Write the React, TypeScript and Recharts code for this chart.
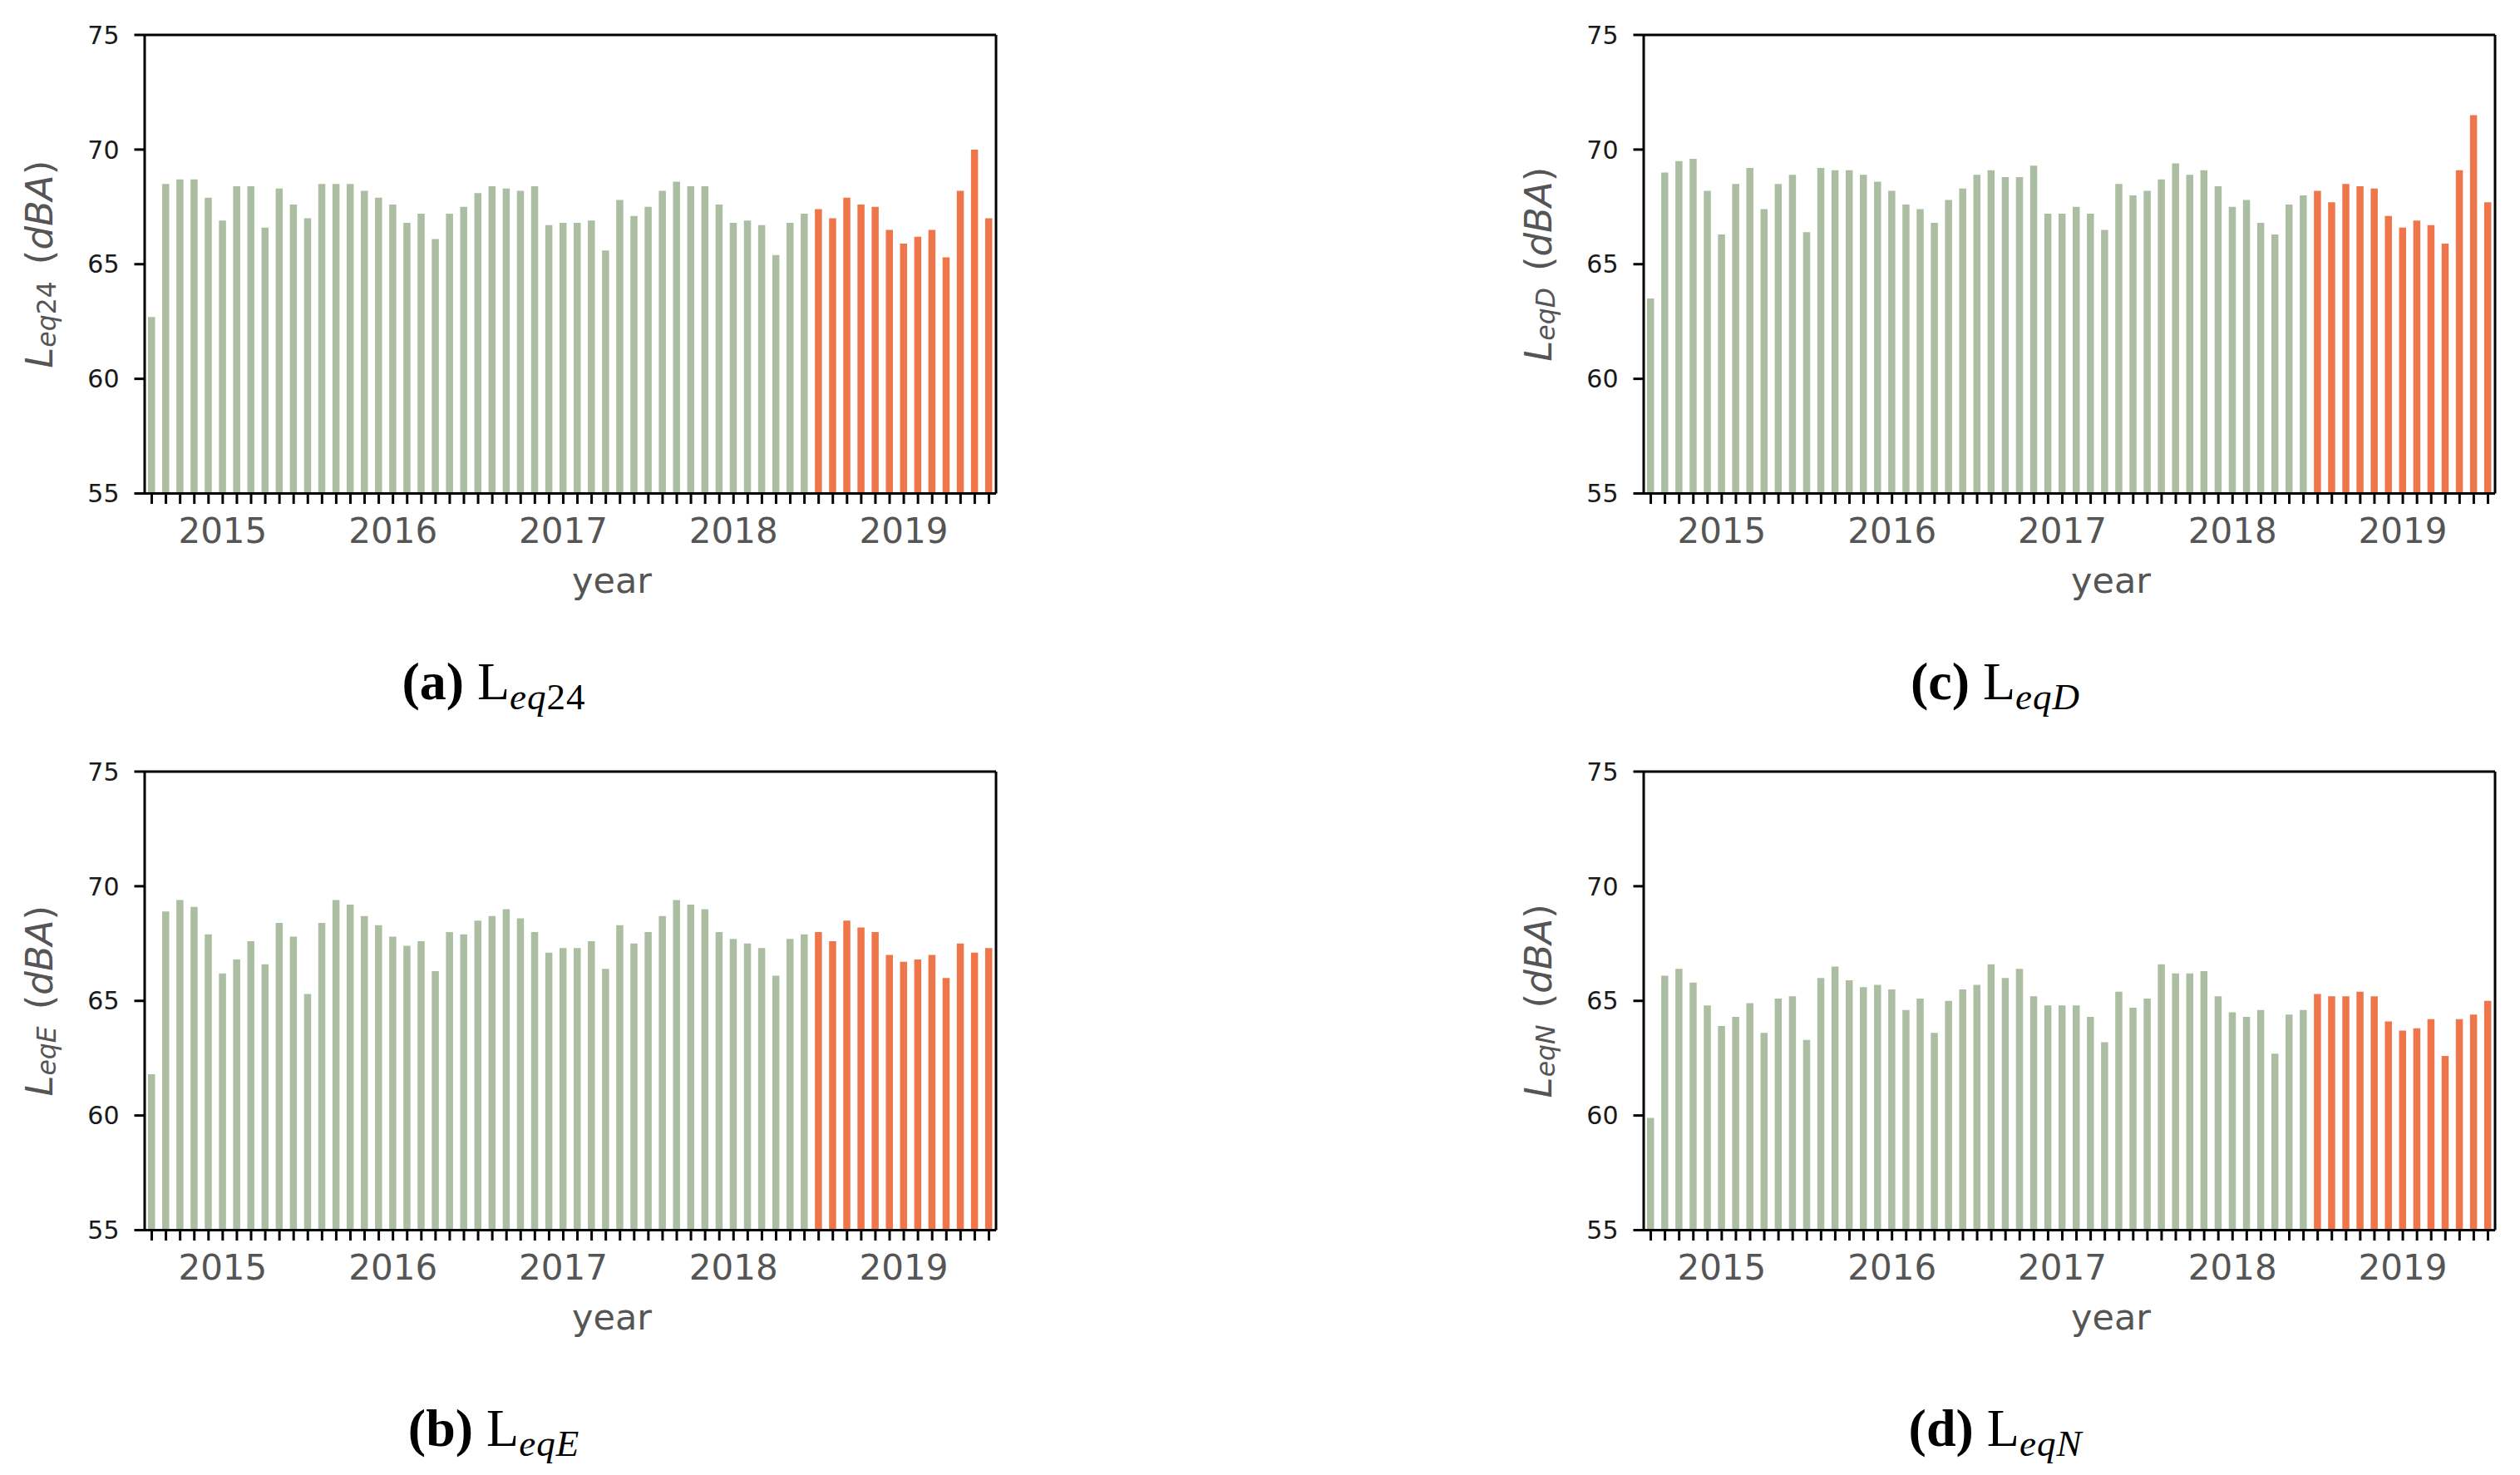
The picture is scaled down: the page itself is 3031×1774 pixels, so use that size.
import React from "react";
import { BarChart, Bar, XAxis, YAxis, Cell } from "recharts";

const months = [
  "2014-08", "2014-09", "2014-10", "2014-11", "2014-12",
  "2015-01", "2015-02", "2015-03", "2015-04", "2015-05", "2015-06", "2015-07", "2015-08", "2015-09", "2015-10", "2015-11", "2015-12",
  "2016-01", "2016-02", "2016-03", "2016-04", "2016-05", "2016-06", "2016-07", "2016-08", "2016-09", "2016-10", "2016-11", "2016-12",
  "2017-01", "2017-02", "2017-03", "2017-04", "2017-05", "2017-06", "2017-07", "2017-08", "2017-09", "2017-10", "2017-11", "2017-12",
  "2018-01", "2018-02", "2018-03", "2018-04", "2018-05", "2018-06", "2018-07", "2018-08", "2018-09", "2018-10", "2018-11", "2018-12",
  "2019-01", "2019-02", "2019-03", "2019-04", "2019-05", "2019-06", "2019-07",
];

const testStart = "2018-07";

const leq24 = [
  62.7, 68.5, 68.7, 68.7, 67.9, 66.9, 68.4, 68.4, 66.6, 68.3,
  67.6, 67.0, 68.5, 68.5, 68.5, 68.2, 67.9, 67.6, 66.8, 67.2,
  66.1, 67.2, 67.5, 68.1, 68.4, 68.3, 68.2, 68.4, 66.7, 66.8,
  66.8, 66.9, 65.6, 67.8, 67.1, 67.5, 68.2, 68.6, 68.4, 68.4,
  67.6, 66.8, 66.9, 66.7, 65.4, 66.8, 67.2, 67.4, 67.0, 67.9,
  67.6, 67.5, 66.5, 65.9, 66.2, 66.5, 65.3, 68.2, 70.0, 67.0,
];

const leqD = [
  63.5, 69.0, 69.5, 69.6, 68.2, 66.3, 68.5, 69.2, 67.4, 68.5,
  68.9, 66.4, 69.2, 69.1, 69.1, 68.9, 68.6, 68.2, 67.6, 67.4,
  66.8, 67.8, 68.3, 68.9, 69.1, 68.8, 68.8, 69.3, 67.2, 67.2,
  67.5, 67.2, 66.5, 68.5, 68.0, 68.2, 68.7, 69.4, 68.9, 69.1,
  68.4, 67.5, 67.8, 66.8, 66.3, 67.6, 68.0, 68.2, 67.7, 68.5,
  68.4, 68.3, 67.1, 66.6, 66.9, 66.7, 65.9, 69.1, 71.5, 67.7,
];

const leqE = [
  61.8, 68.9, 69.4, 69.1, 67.9, 66.2, 66.8, 67.6, 66.6, 68.4,
  67.8, 65.3, 68.4, 69.4, 69.2, 68.7, 68.3, 67.8, 67.4, 67.6,
  66.3, 68.0, 67.9, 68.5, 68.7, 69.0, 68.6, 68.0, 67.1, 67.3,
  67.3, 67.6, 66.4, 68.3, 67.5, 68.0, 68.7, 69.4, 69.2, 69.0,
  68.0, 67.7, 67.5, 67.3, 66.1, 67.7, 67.9, 68.0, 67.6, 68.5,
  68.2, 68.0, 67.0, 66.7, 66.8, 67.0, 66.0, 67.5, 67.1, 67.3,
];

const leqN = [
  59.9, 66.1, 66.4, 65.8, 64.8, 63.9, 64.3, 64.9, 63.6, 65.1,
  65.2, 63.3, 66.0, 66.5, 65.9, 65.6, 65.7, 65.5, 64.6, 65.1,
  63.6, 65.0, 65.5, 65.7, 66.6, 66.0, 66.4, 65.2, 64.8, 64.8,
  64.8, 64.3, 63.2, 65.4, 64.7, 65.1, 66.6, 66.2, 66.2, 66.3,
  65.2, 64.5, 64.3, 64.6, 62.7, 64.4, 64.6, 65.3, 65.2, 65.2,
  65.4, 65.2, 64.1, 63.7, 63.8, 64.2, 62.6, 64.2, 64.4, 65.0,
];

const yTicks = [55, 60, 65, 70, 75];

const GREEN = "#abbea2";
const ORANGE = "#ef764a";

const PLOT_W = 1024;
const PLOT_H = 551.5;
const YW = 160;
const TM = 20;
const RM = 20;
const XH = 150;

const SANS = "DejaVu Sans";

type PanelProps = {
  left: number;
  top: number;
  values: number[];
  subItalic: string;
  subUpright?: string;
};

function Panel({ left, top, values, subItalic, subUpright }: PanelProps) {
  const data = months.map((m, i) => ({ month: m, value: values[i] }));
  const width = YW + PLOT_W + RM;
  const height = TM + PLOT_H + XH;
  const lx = YW - 127.5;
  const ly = TM + PLOT_H / 2;

  const yLabel = () => (
    <text
      x={lx}
      y={ly}
      transform={`rotate(-90, ${lx}, ${ly})`}
      textAnchor="middle"
      dominantBaseline="central"
      fill="#555555"
      fontFamily={SANS}
      fontSize={45}
    >
      <tspan fontStyle="italic">L</tspan>
      <tspan fontStyle="italic" fontSize={31.5} dy={9}>
        {subItalic}
      </tspan>
      {subUpright ? <tspan fontSize={31.5}>{subUpright}</tspan> : null}
      <tspan dy={-9} dx={20}>(</tspan>
      <tspan fontStyle="italic">dBA</tspan>
      <tspan>)</tspan>
    </text>
  );

  const xLabel = () => (
    <text
      x={YW + PLOT_W / 2 + 50}
      y={TM + PLOT_H + 119}
      textAnchor="middle"
      fill="#555555"
      fontFamily={SANS}
      fontSize={43}
    >
      year
    </text>
  );

  return (
    <div style={{ position: "absolute", left: left - YW, top: top - TM, width, height }}>
      <BarChart
        width={width}
        height={height}
        data={data}
        margin={{ top: TM - 1, right: RM - 1, left: 0, bottom: 0 }}
        barCategoryGap={0}
      >
        <XAxis
          dataKey="month"
          interval={0}
          height={XH}
          tickSize={12.5}
          tickMargin={17}
          tickLine={{ stroke: "#000", strokeWidth: 3 }}
          axisLine={{ stroke: "#000", strokeWidth: 3 }}
          tick={{ fontSize: 42, fill: "#555555", fontFamily: SANS }}
          tickFormatter={(m: string) => (m.endsWith("-01") ? m.slice(0, 4) : "")}
          label={xLabel}
        />
        <XAxis
          xAxisId="top"
          orientation="top"
          dataKey="month"
          height={1}
          tick={false}
          tickLine={false}
          axisLine={{ stroke: "#000", strokeWidth: 3 }}
        />
        <YAxis
          type="number"
          domain={[55, 75]}
          ticks={yTicks}
          width={YW}
          tickSize={12.5}
          tickMargin={18}
          tickLine={{ stroke: "#000", strokeWidth: 3 }}
          axisLine={{ stroke: "#000", strokeWidth: 3 }}
          tick={{ fontSize: 30, fill: "#1a1a1a", fontFamily: SANS }}
          label={yLabel}
        />
        <YAxis
          yAxisId="right"
          orientation="right"
          type="number"
          domain={[55, 75]}
          width={1}
          tick={false}
          tickLine={false}
          axisLine={{ stroke: "#000", strokeWidth: 3 }}
        />
        <Bar dataKey="value" barSize={8.5} isAnimationActive={false}>
          {data.map((d) => (
            <Cell key={d.month} fill={d.month >= testStart ? ORANGE : GREEN} />
          ))}
        </Bar>
      </BarChart>
    </div>
  );
}

type CaptionProps = {
  cx: number;
  baseline: number;
  letter: string;
  subItalic: string;
  subUpright?: string;
};

function Caption({ cx, baseline, letter, subItalic, subUpright }: CaptionProps) {
  const fs = 64;
  return (
    <div
      style={{
        position: "absolute",
        left: cx - 300,
        width: 600,
        top: baseline - 0.84 * fs,
        textAlign: "center",
        fontFamily: '"Liberation Serif", serif',
        fontSize: fs,
        lineHeight: `${fs}px`,
        color: "#000",
        whiteSpace: "nowrap",
      }}
    >
      <span style={{ fontWeight: "bold" }}>({letter})</span> L
      <span style={{ position: "relative", top: 12, fontSize: 45, letterSpacing: 1 }}>
        <span style={{ fontStyle: "italic" }}>{subItalic}</span>
        {subUpright ? <span>{subUpright}</span> : null}
      </span>
    </div>
  );
}

export default function App() {
  return (
    <div
      style={{
        position: "absolute",
        left: 0,
        top: 0,
        width: 3031,
        height: 1774,
        background: "#fff",
        overflow: "hidden",
      }}
    >
      <Panel left={173.5} top={41.5} values={leq24} subItalic="eq" subUpright="24" />
      <Panel left={1977} top={41.5} values={leqD} subItalic="eqD" />
      <Panel left={173.5} top={928.4} values={leqE} subItalic="eqE" />
      <Panel left={1977} top={928.4} values={leqN} subItalic="eqN" />
      <Caption cx={594} baseline={842} letter="a" subItalic="eq" subUpright="24" />
      <Caption cx={2400} baseline={842} letter="c" subItalic="eqD" />
      <Caption cx={594} baseline={1740} letter="b" subItalic="eqE" />
      <Caption cx={2400} baseline={1740} letter="d" subItalic="eqN" />
    </div>
  );
}
